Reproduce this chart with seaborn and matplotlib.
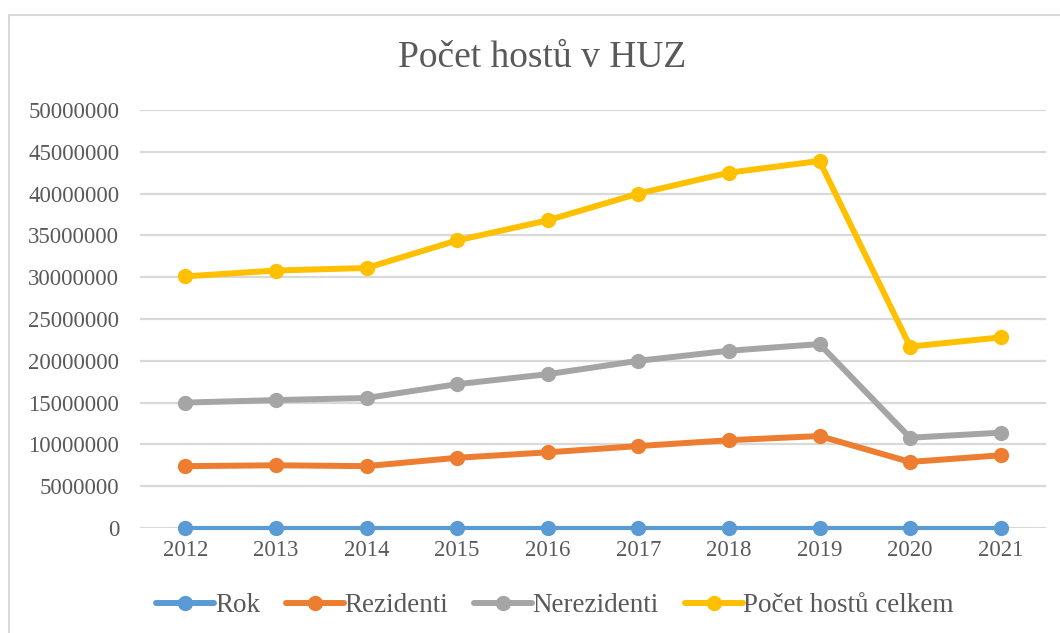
import matplotlib
matplotlib.use("Agg")
import matplotlib.pyplot as plt
from matplotlib.patches import Rectangle
import seaborn as sns
import pandas as pd

years = [2012, 2013, 2014, 2015, 2016, 2017, 2018, 2019, 2020, 2021]
rok = [2012, 2013, 2014, 2015, 2016, 2017, 2018, 2019, 2020, 2021]
rezidenti = [7.4e6, 7.5e6, 7.4e6, 8.4e6, 9.05e6, 9.8e6, 10.5e6, 11.0e6, 7.9e6, 8.7e6]
nerezidenti = [15.0e6, 15.3e6, 15.55e6, 17.2e6, 18.4e6, 20.0e6, 21.2e6, 22.0e6, 10.8e6, 11.4e6]
celkem = [30.1e6, 30.8e6, 31.1e6, 34.4e6, 36.8e6, 40.0e6, 42.5e6, 43.9e6, 21.7e6, 22.8e6]
series_names = ["Rok", "Rezidenti", "Nerezidenti", "Počet hostů celkem"]
yticks = [0, 5e6, 10e6, 15e6, 20e6, 25e6, 30e6, 35e6, 40e6, 45e6, 50e6]

colors = ["#5B9BD5", "#ED7D31", "#A5A5A5", "#FFC000"]
widths = [3.0, 4.3, 4.3, 4.3]

sns.set_theme(style="white")
plt.rcParams["font.family"] = ["Liberation Serif", "DejaVu Serif"]
text_color = "#595959"

fig = plt.figure(figsize=(10.6, 6.33), dpi=100)
ax = fig.add_axes([140 / 1060, 1 - 528 / 633, (1046 - 140) / 1060, (528 - 110) / 633])

values = [rok, rezidenti, nerezidenti, celkem]
for name, vals, c, lw in zip(series_names, values, colors, widths):
    df = pd.DataFrame({"year": years, "value": vals})
    sns.lineplot(data=df, x="year", y="value", ax=ax, color=c, linewidth=lw,
                 marker="o", markersize=11, markeredgewidth=0, label=name, zorder=3,
                 clip_on=False)

ax.set_xlim(years[0] - 0.5, years[-1] + 0.5)
ax.set_ylim(0, 50e6)
ax.set_xticks(years)
ax.set_xticklabels([str(y) for y in years])
ax.set_yticks(yticks)
ax.set_yticklabels([f"{int(v)}" for v in yticks])
ax.set_xlabel("")
ax.set_ylabel("")
ax.yaxis.grid(True, color="#D9D9D9", linewidth=1.6, zorder=0)
ax.xaxis.grid(False)
for s in ax.spines.values():
    s.set_visible(False)
ax.tick_params(axis="y", length=0, pad=15, labelsize=16.5, labelcolor=text_color)
ax.tick_params(axis="x", length=0, pad=9, labelsize=16.5, labelcolor=text_color)

fig.text(0.5 * (402 + 683) / 1060, 1 - 58 / 633, "Počet hostů v HUZ", ha="center", va="center",
         fontsize=27, color=text_color)

handles, labels = ax.get_legend_handles_labels()
leg = ax.legend(handles, labels, loc="center", bbox_to_anchor=(555 / 1060, 1 - 606 / 633),
                bbox_transform=fig.transFigure, ncol=4, frameon=False, fontsize=19.5,
                handlelength=2.15, handletextpad=0.02, columnspacing=0.95,
                labelcolor=text_color)
for h in leg.legend_handles:
    h.set_linewidth(4.3)
    h.set_markersize(11)

fig.patches.append(Rectangle((9 / 1060, -0.1), 1.2, (633 - 15) / 633 + 0.1,
                             transform=fig.transFigure, fill=False, edgecolor="#D9D9D9",
                             linewidth=1.5, zorder=10))

fig.savefig("out.png", dpi=100, facecolor="white")
